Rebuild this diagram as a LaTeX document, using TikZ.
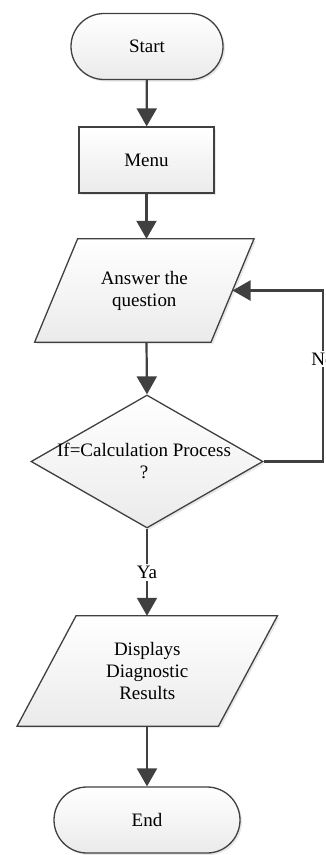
\documentclass[tikz,border=0pt]{standalone}
\usepackage{fontspec}
\setmainfont{Liberation Serif}
\usetikzlibrary{shapes.geometric,arrows.meta,shadows,backgrounds}
\definecolor{ln}{HTML}{404040}
\tikzset{
  fillsty/.style={draw=ln, line width=1.3pt, top color=white, bottom color=gray!16,
    drop shadow={shadow xshift=2pt, shadow yshift=-2pt, opacity=0.18, fill=gray}},
  base/.style={fillsty, inner sep=0pt, align=center, font=\fontsize{19}{22}\selectfont},
  term/.style={base, rectangle, rounded corners=33pt, minimum height=66pt},
  procbox/.style={base, rectangle, minimum width=135pt, minimum height=66pt},
  iotext/.style={rectangle, inner sep=0pt, align=center, font=\fontsize{19}{22}\selectfont},
  decision/.style={base, diamond, minimum width=232pt, minimum height=133pt},
  txt/.style={font=\fontsize{19}{22}\selectfont, align=center, inner sep=1pt},
  conn/.style={draw=ln, line width=2.2pt, -{Triangle[length=18pt,width=20pt]}},
  lbl/.style={txt, fill=white, inner sep=2pt}
}
\begin{document}
\begin{tikzpicture}[x=1pt,y=1pt]
\useasboundingbox (0,0) rectangle (326,-855);
\clip (0,0) rectangle (326,-855);
\node[term, minimum width=152pt] (start) at (147,-46.5) {Start};
\node[procbox] (menu) at (146.5,-160) {Menu};
\node[iotext, minimum width=176pt, minimum height=103pt] (ans) at (144.3,-290.5) {Answer the\\question};
\node[decision] (dec) at (147,-461.5) {};
\node[txt] (dectext) at (144,-461) {If=Calculation Process\\?};
\node[iotext, minimum width=201pt, minimum height=110pt] (disp) at (147.25,-671) {Displays\\Diagnostic\\Results};
\node[term, minimum width=186pt] (end) at (147,-820) {End};

\begin{pgfonlayer}{background}
\draw[fillsty] ([xshift=-21.5pt]ans.south west) -- ([xshift=-21.5pt]ans.south east)
  -- ([xshift=21.5pt]ans.north east) -- ([xshift=21.5pt]ans.north west) -- cycle;
\draw[fillsty] ([xshift=-29.5pt]disp.south west) -- ([xshift=-29.5pt]disp.south east)
  -- ([xshift=29.5pt]disp.north east) -- ([xshift=29.5pt]disp.north west) -- cycle;
\end{pgfonlayer}

\draw[conn] (start) -- (menu);
\draw[conn] (menu.south) -- (menu.south |- ans.north);
\draw[conn] (menu.south |- ans.south) -- (dec.north);
\draw[conn] (dec.south) -- node[lbl, pos=0.5] (ya) {Ya} (dec.south |- disp.north);
\draw[conn] (dec.south |- disp.south) -- (end.north);
\coordinate (lc) at (323,-461.5);
\draw[conn] (dec.east) -- (lc) |- node[lbl, pos=0.3] (no) {No} (ans.east);
\end{tikzpicture}
\end{document}
